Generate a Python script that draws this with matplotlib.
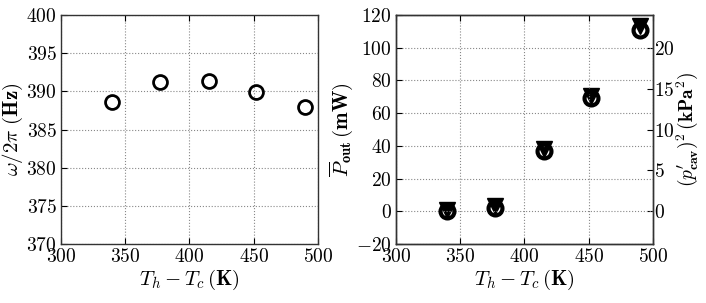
import matplotlib
matplotlib.use('Agg')
import matplotlib.pyplot as plt

plt.rcParams['font.family'] = 'serif'
plt.rcParams['font.serif'] = ['cmr10']
plt.rcParams['mathtext.fontset'] = 'cm'
plt.rcParams['axes.formatter.use_mathtext'] = True

# dados
delta_T = [340, 377, 415, 452, 490]
freq = [388.6, 391.2, 391.35, 389.95, 387.9]
potencia = [0.0, 1.8, 37.0, 69.0, 111.0]
pressao2 = [0.2, 0.65, 7.6, 14.1, 22.65]

fig = plt.figure(figsize=(7.06, 3.03), dpi=100)

ax1 = fig.add_axes([0.0864, 0.1947, 0.364, 0.7558])
ax1.plot(delta_T, freq, 'o', mfc='none', mec='black', mew=2, ms=10, linestyle='none')
ax1.set_xlim(300, 500)
ax1.set_ylim(370, 400)
ax1.set_xticks([300, 350, 400, 450, 500])
ax1.set_yticks([370, 375, 380, 385, 390, 395, 400])
ax1.set_xlabel(r'$T_h - T_c\,(\mathbf{K})$', fontsize=15, labelpad=1)
ax1.set_ylabel(r'$\omega/2\pi\ (\mathbf{Hz})$', fontsize=15, labelpad=1)

ax2 = fig.add_axes([0.5609, 0.1947, 0.364, 0.7558])
ax3 = ax2.twinx()
ax3.plot(delta_T, pressao2, 'v', color='black', ms=11, linestyle='none', zorder=2)
ax2.set_zorder(ax3.get_zorder() + 1)
ax2.patch.set_visible(False)
ax2.plot(delta_T, potencia, 'o', mfc='none', mec='black', mew=3, ms=10, linestyle='none')
ax2.set_xlim(300, 500)
ax2.set_ylim(-20, 120)
ax2.set_xticks([300, 350, 400, 450, 500])
ax2.set_yticks([-20, 0, 20, 40, 60, 80, 100, 120])
ax3.set_ylim(-4, 24)
ax3.set_yticks([0, 5, 10, 15, 20])
ax2.set_xlabel(r'$T_h - T_c\,(\mathbf{K})$', fontsize=15, labelpad=1)
ax2.set_ylabel(r'$\overline{P}_{\mathbf{out}}\,(\mathbf{mW})$', fontsize=15, labelpad=1)
ax3.set_ylabel(r"$(p^{\prime}_{\mathbf{cav}})^2\,(\mathbf{kPa}^2)$", fontsize=14, labelpad=0)

for ax in (ax1, ax2, ax3):
    ax.tick_params(labelsize=14, direction='in', length=4, width=0.8, pad=3)
    for s in ax.spines.values():
        s.set_color('#333333')
        s.set_linewidth(1.0)
for ax in (ax1, ax2):
    ax.grid(True, linestyle=':', color='#888888', linewidth=0.8)
    ax.tick_params(top=True)
ax3.tick_params(pad=1)

fig.savefig('out.png', dpi=100)
